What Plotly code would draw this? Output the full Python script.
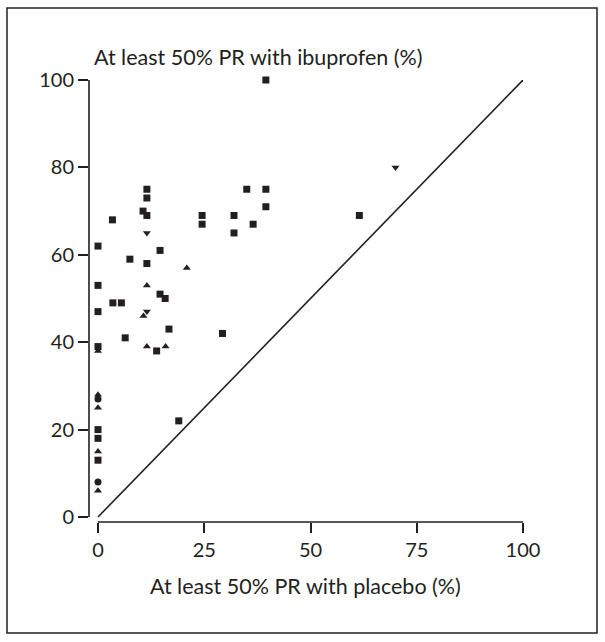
import plotly.graph_objects as go

# Data (placebo %, ibuprofen %)
sq_x = [39.5, 35, 39.5, 39.5, 24.5, 24.5, 32, 36.5, 32, 61.5, 29.3, 11.5, 11.5, 10.6, 11.5, 3.4, 0, 14.6, 7.5, 11.5,
        0, 14.6, 15.8, 3.5, 5.5, 0, 16.7, 6.4, 0, 13.8, 19, 0, 0, 0]
sq_y = [100, 75, 75, 71, 69, 67, 69, 67, 65, 69, 42, 75, 73, 70, 69, 68, 62, 61, 59, 58,
        53, 51, 50, 49, 49, 47, 43, 41, 39, 38, 22, 20, 18, 13]
up_x = [20.9, 11.5, 10.7, 0, 11.5, 15.9, 0, 0, 0, 0]
up_y = [57, 53, 46, 38, 39, 39, 28, 25, 15, 6]
dn_x = [70, 11.5, 11.5]
dn_y = [80, 65, 47]
ci_x = [0, 0]
ci_y = [27, 8]
eq_x = [0, 100]
eq_y = [0, 100]
x_ticks = [0, 25, 50, 75, 100]
y_ticks = [0, 20, 40, 60, 80, 100]

INK = "#231f20"
FONT = "Lato"
TICK_SIZE = 20
LABEL_SIZE = 21.5

fig = go.Figure()
fig.add_trace(go.Scatter(x=eq_x, y=eq_y, mode="lines", line=dict(color=INK, width=1.6), hoverinfo="skip",
                         cliponaxis=False))
fig.add_trace(go.Scatter(x=sq_x, y=sq_y, mode="markers", marker=dict(symbol="square", size=7, color=INK),
                         cliponaxis=False))
fig.add_trace(go.Scatter(x=up_x, y=up_y, mode="markers", marker=dict(symbol="triangle-up", size=7, color=INK),
                         cliponaxis=False))
fig.add_trace(go.Scatter(x=dn_x, y=dn_y, mode="markers", marker=dict(symbol="triangle-down", size=7, color=INK),
                         cliponaxis=False))
fig.add_trace(go.Scatter(x=ci_x, y=ci_y, mode="markers", marker=dict(symbol="circle", size=7, color=INK),
                         cliponaxis=False))

L, R, T, B = 89, 82, 80, 120
W, H = 605, 642
pw, ph = W - L - R, H - T - B

def px(xp):
    return (xp - L) / pw

def py(yp):
    return (H - B - yp) / ph

fig.update_layout(
    width=W, height=H,
    margin=dict(l=L, r=R, t=T, b=B),
    paper_bgcolor="white", plot_bgcolor="white",
    showlegend=False,
    font=dict(family=FONT, size=TICK_SIZE, color=INK),
    xaxis=dict(range=[-9 / 4.25, 100], showgrid=False, zeroline=False, showline=False,
               tickmode="array", tickvals=x_ticks, ticks="outside", ticklen=10, tickwidth=1.6,
               tickcolor=INK, tickfont=dict(family=FONT, size=TICK_SIZE, color=INK)),
    yaxis=dict(range=[-5 / 4.37, 100], showgrid=False, zeroline=False, showline=False,
               tickmode="array", tickvals=y_ticks, ticks="outside", ticklen=10, tickwidth=1.6,
               tickcolor=INK, tickfont=dict(family=FONT, size=TICK_SIZE, color=INK)),
    shapes=[
        dict(type="line", xref="x", yref="paper", x0=0, x1=100, y0=0, y1=0, line=dict(color=INK, width=1.6)),
        dict(type="line", xref="paper", yref="y", x0=0, x1=0, y0=0, y1=100, line=dict(color=INK, width=1.6)),
        dict(type="rect", xref="paper", yref="paper", x0=px(7), x1=px(597), y0=py(633), y1=py(8),
             line=dict(color=INK, width=1.5), fillcolor="rgba(0,0,0,0)", layer="below"),
    ],
    annotations=[
        dict(text="At least 50% PR with ibuprofen (%)", xref="paper", yref="paper", x=px(92), y=py(57),
             xanchor="left", yanchor="middle", showarrow=False, font=dict(family=FONT, size=LABEL_SIZE, color=INK)),
        dict(text="At least 50% PR with placebo (%)", xref="paper", yref="paper", x=px(305.5), y=py(586),
             xanchor="center", yanchor="middle", showarrow=False, font=dict(family=FONT, size=LABEL_SIZE, color=INK)),
    ],
)

fig.write_html("out.html")
